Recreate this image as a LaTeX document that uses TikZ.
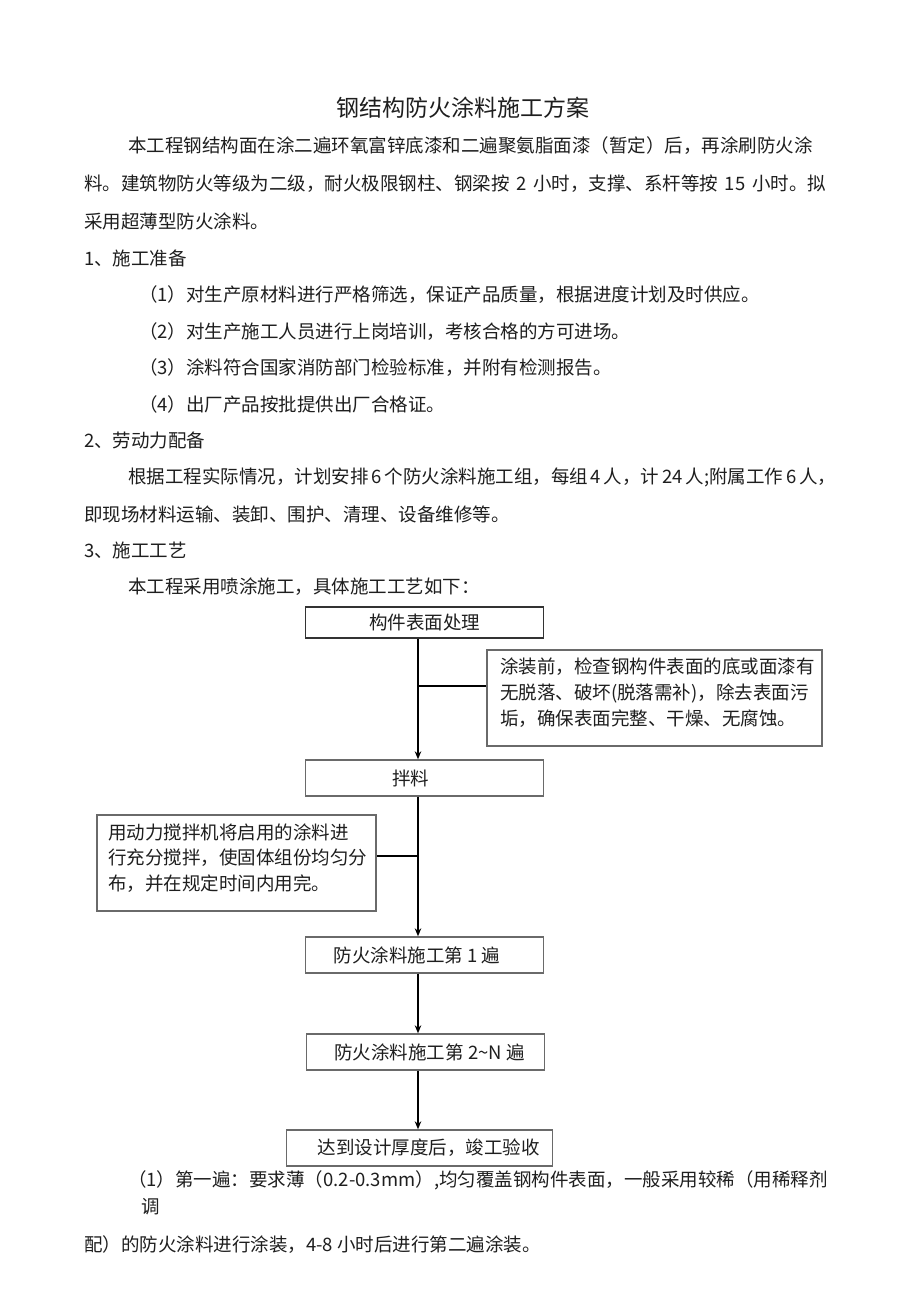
\documentclass[tikz,border=0pt]{standalone}
\usepackage{fontspec}
\setmainfont{Noto Sans CJK SC}
\usetikzlibrary{arrows.meta}
\XeTeXlinebreaklocale "zh"
\XeTeXlinebreakskip=0pt plus 3pt
\newcommand\bodyfnt{\fontsize{18.5}{26}\selectfont}
\newcommand\titlefnt{\fontsize{23}{28}\selectfont}
\newcommand\jl[2]{\makebox[#1][s]{#2}}
\definecolor{ink}{HTML}{1E1E1E}
\definecolor{boxgray}{HTML}{6A6A6A}
\definecolor{boxdark}{HTML}{333333}
\begin{document}
\begin{tikzpicture}[x=1pt,y=-1pt,
  txt/.style={anchor=west,inner sep=0pt,font=\bodyfnt,text=ink},
  fbox/.style={draw=boxgray,line width=1.4pt,inner sep=0pt,minimum width=238pt,minimum height=36pt,font=\bodyfnt,text=ink},
  nbox/.style={draw=boxgray,line width=1.4pt,inner sep=0pt},
  flow/.style={draw=black,line width=1.3pt},
  arr/.style={flow,-{Stealth[length=8pt,width=6.5pt]}}]
\useasboundingbox (0,0) rectangle (920,1301);
\fill[white] (0,0) rectangle (920,1301);

% title and body text
\node[inner sep=0pt,font=\titlefnt,text=ink] (title) at (463,108) {钢结构防火涂料施工方案};
\node[txt] (p1a) at (128,146) {\jl{690pt}{本工程钢结构面在涂二遍环氧富锌底漆和二遍聚氨脂面漆（暂定）后，再涂刷防火涂}};
\node[txt] (p1b) at (84,184) {\jl{742pt}{料。建筑物防火等级为二级，耐火极限钢柱、钢梁按 2 小时，支撑、系杆等按 15 小时。拟}};
\node[txt] (p1c) at (84,221) {采用超薄型防火涂料。};
\node[txt] (h1) at (84,258) {1、施工准备};
\node[txt] (i1) at (139,295) {（1）对生产原材料进行严格筛选，保证产品质量，根据进度计划及时供应。};
\node[txt] (i2) at (139,332) {（2）对生产施工人员进行上岗培训，考核合格的方可进场。};
\node[txt] (i3) at (139,368) {（3）涂料符合国家消防部门检验标准，并附有检测报告。};
\node[txt] (i4) at (139,404) {（4）出厂产品按批提供出厂合格证。};
\node[txt] (h2) at (84,440) {2、劳动力配备};
\node[txt] (p2a) at (128,477) {\jl{708pt}{根据工程实际情况，计划安排 6 个防火涂料施工组，每组 4 人，计 24 人;附属工作 6 人，}};
\node[txt] (p2b) at (84,514) {即现场材料运输、装卸、围护、清理、设备维修等。};
\node[txt] (h3) at (84,550) {3、施工工艺};
\node[txt] (p3) at (128,587) {本工程采用喷涂施工，具体施工工艺如下：};

% flowchart
\coordinate (sp) at (418,0);
\node[fbox,draw=boxdark,minimum height=31pt] (b1) at (424.5,622.5) {构件表面处理};
\node[fbox] (b2) at (424.5,778) {\hspace*{-28pt}拌料};
\node[fbox] (b3) at (424.5,955) {\hspace*{-15pt}防火涂料施工第 1 遍};
\node[fbox] (b4) at (425.5,1052) {\hspace*{8pt}防火涂料施工第 2\textasciitilde N 遍};
\node[fbox,minimum width=266pt] (b5) at (419.5,1148) {\hspace*{18pt}达到设计厚度后，竣工验收};

\node[nbox,minimum width=335pt,minimum height=96pt] (n1) at (654.5,698) {};
\node[txt] (n1a) at (500,667) {\jl{309pt}{涂装前，检查钢构件表面的底或面漆有}};
\node[txt] (n1b) at (500,693) {\jl{309pt}{无脱落、破坏(脱落需补)，除去表面污}};
\node[txt] (n1c) at (500,719) {垢，确保表面完整、干燥、无腐蚀。};

\node[nbox,minimum width=279pt,minimum height=96pt] (n2) at (236.5,863) {};
\node[txt] (n2a) at (108,832) {\jl{255pt}{用动力搅拌机将启用的涂料进}};
\node[txt] (n2b) at (108,858) {\jl{255pt}{行充分搅拌，使固体组份均匀分}};
\node[txt] (n2c) at (108,884) {布，并在规定时间内用完。};

\draw[arr] (b1.south -| sp) -- (b2.north -| sp);
\draw[arr] (b2.south -| sp) -- (b3.north -| sp);
\draw[arr] (b3.south -| sp) -- (b4.north -| sp);
\draw[arr] (b4.south -| sp) -- (b5.north -| sp);
\coordinate (j1) at (418,686);
\coordinate (j2) at (418,856);
\draw[flow] (j1) -- (j1 -| n1.west);
\draw[flow] (j2) -- (j2 -| n2.east);

% bottom text
\node[txt] (q1) at (128,1180) {\jl{704pt}{（1）第一遍：要求薄（0.2-0.3mm）,均匀覆盖钢构件表面，一般采用较稀（用稀释剂}};
\node[txt] (q2) at (141,1207) {调};
\node[txt] (q3) at (84,1245) {配）的防火涂料进行涂装，4-8 小时后进行第二遍涂装。};
\end{tikzpicture}
\end{document}
